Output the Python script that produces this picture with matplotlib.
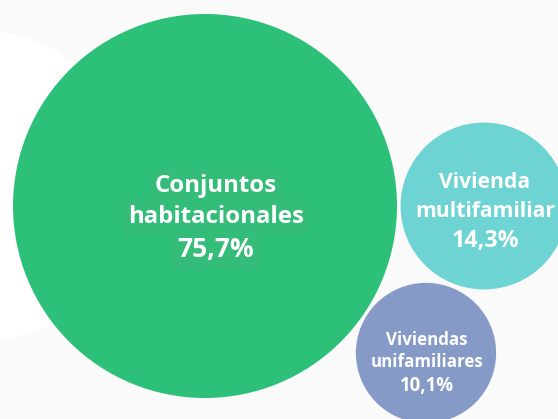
import matplotlib.pyplot as plt
from matplotlib.patches import Circle
import numpy as np

categories = ["Conjuntos\nhabitacionales", "Vivienda\nmultifamiliar", "Viviendas\nunifamiliares"]
shares = [75.7, 14.3, 10.1]

# layout (pixels, y downwards)
centers = [(205, 206), (484, 206), (426, 353)]
text_pos = [(216, 217), (485, 211), (427, 362)]
colors = ["#2cc079", "#6dd3d3", "#869ac7"]
font_sizes = [17.3, 15.2, 12.2]
line_gap = [31, 29, 22.5]
scale = 192 / np.sqrt(75.7)

plt.rcParams['font.family'] = ['Open Sans', 'DejaVu Sans']

fig = plt.figure(figsize=(5.58, 4.19), dpi=100)
fig.patch.set_facecolor("#fafafa")
ax = fig.add_axes([0, 0, 1, 1])
ax.set_xlim(0, 558)
ax.set_ylim(419, 0)
ax.set_aspect("equal")
ax.axis("off")

# faint white shape behind the big bubble
ax.add_patch(Circle((-20, 186), 155, facecolor="white", edgecolor="none", zorder=0))

for i, (cat, v) in enumerate(zip(categories, shares)):
    cx, cy = centers[i]
    r = scale * np.sqrt(v)
    ax.add_patch(Circle((cx, cy), r, facecolor=colors[i], edgecolor="none", zorder=1))
    lines = cat.split("\n") + [f"{v:.1f}".replace(".", ",") + "%"]
    tx, ty = text_pos[i]
    for j, line in enumerate(lines):
        box = None
        if i == 0:
            box = dict(boxstyle="round,pad=0.25", facecolor="#33bd78", edgecolor="none")
        size = font_sizes[i] * (1.1 if j == 2 else 1)
        ax.text(tx, ty + (j - 1) * line_gap[i] + (1 if j == 2 else 0), line,
                ha="center", va="center", color="white",
                fontsize=size, fontweight="bold", zorder=2, bbox=box)

fig.savefig("out.png", dpi=100, facecolor=fig.get_facecolor())
